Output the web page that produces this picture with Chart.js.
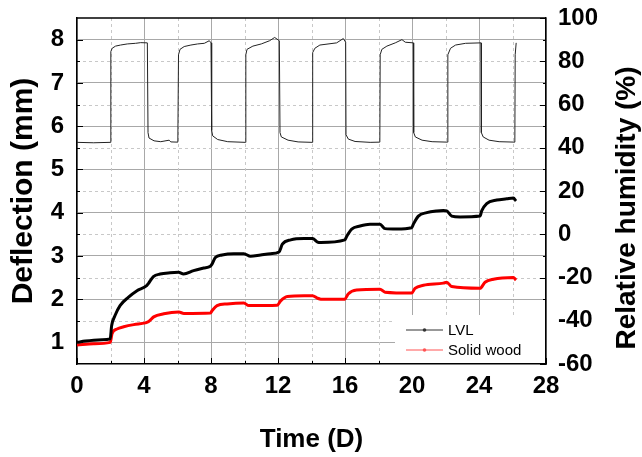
<!DOCTYPE html>
<html lang="en">
<head>
  <meta charset="UTF-8" />
  <title>Deflection and relative humidity</title>
  <script src="https://cdn.jsdelivr.net/npm/chart.js"></script>
  <style>
    html, body { margin: 0; padding: 0; background: #fff; }
  </style>
</head>
<body>
  <canvas id="grafico" width="642" height="457"></canvas>

<script>
// Relative humidity (right axis)
const rhDays = [0, 1.0, 1.98,
  2.02, 2.1, 2.3, 2.6, 3.0, 3.5, 3.8, 4.2,
  4.24, 4.3, 4.6, 5.0, 5.5, 5.6, 6.02,
  6.06, 6.15, 6.4, 6.8, 7.2, 7.6, 7.9, 8.0,
  8.04, 8.1, 8.4, 9.0, 10.05,
  10.08, 10.15, 10.5, 11.0, 11.5, 11.8, 12.08,
  12.12, 12.2, 12.6, 13.2, 14.04,
  14.07, 14.2, 14.5, 15.5, 15.9, 16.04,
  16.06, 16.2, 16.6, 17.5, 18.08,
  18.1, 18.2, 18.5, 19.0, 19.4, 19.6, 20.08,
  20.1, 20.2, 20.6, 21.2, 22.12,
  22.14, 22.3, 22.6, 23.2, 24.12,
  24.14, 24.25, 24.6, 25.2, 26.14,
  26.16, 26.22];
const rhValues = [42.5, 42.3, 42.5,
  84.5, 86, 87, 87.5, 88, 88.3, 88.6, 88.5,
  47, 44.5, 43.2, 42.8, 43.5, 42.7, 42.6,
  83, 85.5, 86.8, 87.5, 88, 88.3, 89.5, 88.5,
  48, 45.5, 43.8, 42.8, 42.5,
  83, 85.5, 87, 88, 89.5, 91, 89.5,
  47, 45, 43.5, 42.7, 42.5,
  84, 86, 87.5, 88.5, 90.5, 88.8,
  46, 44, 42.9, 42.5, 42.6,
  83, 85.5, 87, 88.5, 90, 88.8, 88.5,
  47, 45, 43.5, 42.8, 42.6,
  83, 86, 87.5, 88.3, 88.5,
  47, 45, 43.5, 42.8, 42.6,
  83, 88.5];

// Deflection of LVL (left axis)
const lvlDays = [0, 0.5, 1.0, 1.5, 1.98,
  2.07, 2.27, 2.57, 3.06, 3.56, 4.16,
  4.26, 4.56, 4.96, 5.56, 6.06, 6.36, 6.96, 7.56, 7.96,
  8.06, 8.26, 8.66, 9.36, 9.96, 10.36, 10.96, 11.56, 12.06,
  12.26, 12.76, 13.56, 14.06, 14.36, 14.56, 15.99,
  16.10, 16.40, 16.90, 17.49, 18.09, 18.39, 19.08, 19.98,
  20.08, 20.38, 20.88, 21.47, 21.87, 22.07, 22.37, 22.87, 24.06,
  24.16, 24.46, 25.06, 25.65, 26.05, 26.21];
const lvlValues = [1.00, 1.03, 1.05, 1.06, 1.08,
  1.39, 1.62, 1.85, 2.04, 2.19, 2.31,
  2.36, 2.52, 2.58, 2.61, 2.62, 2.58, 2.66, 2.72, 2.76,
  2.81, 2.96, 3.02, 3.05, 3.05, 2.99, 3.02, 3.05, 3.09,
  3.27, 3.37, 3.40, 3.40, 3.32, 3.31, 3.37,
  3.45, 3.62, 3.69, 3.73, 3.73, 3.63, 3.62, 3.65,
  3.73, 3.92, 4.00, 4.04, 4.05, 4.04, 3.92, 3.90, 3.92,
  4.04, 4.21, 4.29, 4.32, 4.34, 4.27];

// Deflection of solid wood (left axis)
const woodDays = [0, 1.0, 1.99,
  2.09, 2.39, 2.79, 3.39, 4.08, 4.28, 4.58, 5.18, 6.08, 6.38, 7.97,
  8.06, 8.36, 8.96, 9.96, 10.26, 11.96,
  12.16, 12.56, 13.56, 14.06, 14.36, 14.56, 15.99,
  16.19, 16.69, 18.09, 18.39, 19.98,
  20.18, 20.68, 21.87, 22.07, 22.37, 24.06,
  24.36, 24.86, 26.05, 26.21];
const woodValues = [0.94, 0.97, 1.00,
  1.20, 1.31, 1.36, 1.41, 1.45, 1.48, 1.59, 1.66, 1.70, 1.67, 1.68,
  1.73, 1.85, 1.89, 1.91, 1.85, 1.86,
  1.96, 2.06, 2.08, 2.08, 2.02, 2.00, 2.00,
  2.12, 2.21, 2.23, 2.16, 2.14,
  2.25, 2.32, 2.37, 2.39, 2.29, 2.25,
  2.39, 2.46, 2.50, 2.44];

// tick labels
const xTicks = [0, 4, 8, 12, 16, 20, 24, 28];
const xMinor = [2, 6, 10, 14, 18, 22, 26];
const leftTicks = [1, 2, 3, 4, 5, 6, 7, 8];
const leftMinor = [1.5, 2.5, 3.5, 4.5, 5.5, 6.5, 7.5];
const rightTicks = [-60, -40, -20, 0, 20, 40, 60, 80, 100];
const rightMinor = [-50, -30, -10, 10, 30, 50, 70, 90];
const rightTitle = 'Relative humidity (%)';

const pontos = (xs, ys) => xs.map((x, i) => ({ x: x, y: ys[i] }));
const fonte = "'Liberation Sans', Arial, sans-serif";
const fixarTicks = lista => scale => { scale.ticks = lista.map(v => ({ value: v })); };
// fixed axis sizes, no extra room for labels hanging over the ends
const largura = w => s => { s.width = w; s.paddingTop = 0; s.paddingBottom = 0; };
const altura = h => s => { s.height = h; s.paddingLeft = 0; s.paddingRight = 0; };

// minor dashed grid, inward ticks, top frame line, right title and legend box
const moldura = {
  id: 'moldura',
  beforeDatasetsDraw(chart) {
    const { ctx, chartArea: a, scales } = chart;
    ctx.save();
    ctx.strokeStyle = '#c8c8c8';
    ctx.lineWidth = 1;
    ctx.setLineDash([3, 3]);
    xMinor.forEach(v => {
      const px = Math.round(scales.x.getPixelForValue(v)) + 0.5;
      ctx.beginPath(); ctx.moveTo(px, a.top); ctx.lineTo(px, a.bottom); ctx.stroke();
    });
    leftMinor.forEach(v => {
      const py = Math.round(scales.y.getPixelForValue(v)) + 0.5;
      ctx.beginPath(); ctx.moveTo(a.left, py); ctx.lineTo(a.right, py); ctx.stroke();
    });
    ctx.restore();
  },
  afterDatasetsDraw(chart) {
    const { ctx, chartArea: a, scales } = chart;
    ctx.save();
    ctx.strokeStyle = '#000';
    ctx.lineWidth = 1.5;
    ctx.beginPath(); ctx.moveTo(a.left, a.top); ctx.lineTo(a.right, a.top); ctx.stroke();
    ctx.lineWidth = 1;
    const marca = (lista, len, f) => lista.forEach(v => f(v, len));
    const tx = (v, len) => {
      const px = Math.round(scales.x.getPixelForValue(v)) + 0.5;
      ctx.beginPath(); ctx.moveTo(px, a.bottom); ctx.lineTo(px, a.bottom - len); ctx.stroke();
    };
    const ty = (v, len) => {
      const py = Math.round(scales.y.getPixelForValue(v)) + 0.5;
      ctx.beginPath(); ctx.moveTo(a.left, py); ctx.lineTo(a.left + len, py); ctx.stroke();
    };
    const ty1 = (v, len) => {
      const py = Math.round(scales.y1.getPixelForValue(v)) + 0.5;
      ctx.beginPath(); ctx.moveTo(a.right, py); ctx.lineTo(a.right - len, py); ctx.stroke();
    };
    marca(xTicks, 6, tx); marca(xMinor, 3, tx);
    marca(leftTicks, 6, ty); marca(leftMinor, 3, ty);
    marca(rightTicks, 6, ty1); marca(rightMinor, 3, ty1);

    // legend
    ctx.fillStyle = '#fff';
    ctx.fillRect(395, 315, a.right - 396, a.bottom - 316);
    const itens = chart.data.datasets.filter(d => d.naLegenda);
    itens.forEach((d, i) => {
      const y = 330 + i * 20;
      ctx.strokeStyle = d.corLegenda;
      ctx.lineWidth = 1;
      ctx.beginPath(); ctx.moveTo(406, y); ctx.lineTo(443, y); ctx.stroke();
      ctx.fillStyle = d.corLegenda;
      ctx.beginPath(); ctx.arc(424.5, y, 1.8, 0, Math.PI * 2); ctx.fill();
      ctx.fillStyle = '#000';
      ctx.font = '15px ' + fonte;
      ctx.textBaseline = 'middle';
      ctx.textAlign = 'left';
      ctx.fillText(d.label, 448, y + 1);
    });

    // right axis title, read bottom to top like the left one
    ctx.translate(627, 208);
    ctx.rotate(-Math.PI / 2);
    ctx.fillStyle = '#000';
    ctx.font = 'bold 28px ' + fonte;
    ctx.textAlign = 'center';
    ctx.textBaseline = 'middle';
    ctx.fillText(rightTitle, 0, 0);
    ctx.restore();
  }
};

const ctx = document.getElementById('grafico').getContext('2d');
const grafico = new Chart(ctx, {
  type: 'line',
  data: {
    datasets: [{
      label: 'LVL',
      data: pontos(lvlDays, lvlValues),
      yAxisID: 'y',
      borderColor: '#000',
      borderWidth: 3,
      pointRadius: 0,
      cubicInterpolationMode: 'monotone',
      naLegenda: true,
      corLegenda: '#333'
    }, {
      label: 'Solid wood',
      data: pontos(woodDays, woodValues),
      yAxisID: 'y',
      borderColor: '#ff0000',
      borderWidth: 3,
      pointRadius: 0,
      cubicInterpolationMode: 'monotone',
      naLegenda: true,
      corLegenda: '#ff5555'
    }, {
      label: 'Relative humidity',
      data: pontos(rhDays, rhValues),
      yAxisID: 'y1',
      borderColor: '#222',
      borderWidth: 1,
      pointRadius: 0,
      tension: 0
    }]
  },
  options: {
    responsive: false,
    animation: false,
    devicePixelRatio: 1,
    layout: { padding: { top: 18, right: 0, left: 0, bottom: 0 } },
    plugins: { legend: { display: false }, tooltip: { enabled: false } },
    scales: {
      x: {
        type: 'linear',
        min: 0, max: 28,
        afterBuildTicks: fixarTicks(xTicks),
        afterFit: altura(93),
        grid: { color: '#a8a8a8', drawTicks: false },
        border: { color: '#000', width: 1.5 },
        ticks: { color: '#000', padding: 8, font: { family: fonte, size: 24, weight: 'bold' } },
        title: { display: true, text: 'Time (D)', color: '#000', padding: { bottom: 2 },
                 font: { family: fonte, size: 26, weight: 'bold' } }
      },
      y: {
        position: 'left',
        min: 0.5, max: 8.5,
        afterBuildTicks: fixarTicks(leftTicks),
        afterFit: largura(77),
        grid: { color: '#a8a8a8', drawTicks: false },
        border: { color: '#000', width: 1.5 },
        ticks: { color: '#000', padding: 13, font: { family: fonte, size: 24, weight: 'bold' } },
        title: { display: true, text: 'Deflection (mm)', color: '#000', padding: { top: 6 },
                 font: { family: fonte, size: 30, weight: 'bold' } }
      },
      y1: {
        position: 'right',
        min: -60, max: 100,
        afterBuildTicks: fixarTicks(rightTicks),
        afterFit: largura(96),
        grid: { drawOnChartArea: false, drawTicks: false },
        border: { color: '#000', width: 1.5 },
        ticks: { color: '#000', padding: 12, font: { family: fonte, size: 24, weight: 'bold' } }
      }
    }
  },
  plugins: [moldura]
});
</script>
</body>
</html>
